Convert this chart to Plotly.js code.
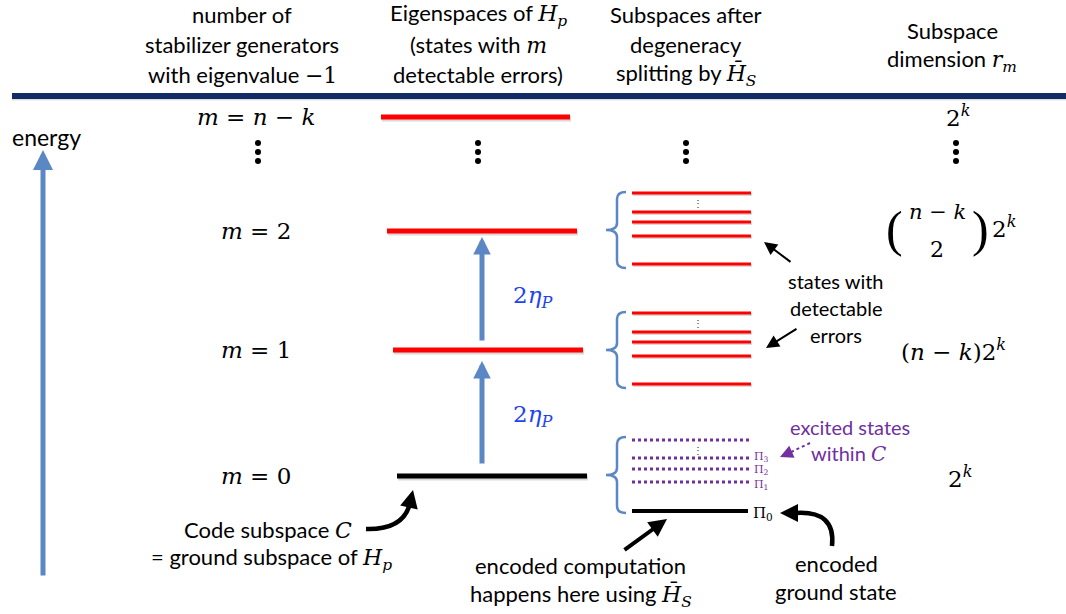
<!DOCTYPE html>
<html><head><meta charset="utf-8">
<script src="https://cdn.plot.ly/plotly-3.0.1.min.js"></script>
<style>html,body{margin:0;padding:0;background:#fff}#chart{width:1066px;height:614px}</style>
</head><body><div id="chart"></div>
<script>
// ---------- data ----------
const levelLabels = ['<i>m</i> = <i>n</i> − <i>k</i>', '<i>m</i> = 2', '<i>m</i> = 1', '<i>m</i> = 0'];
const levelEnergy = [117, 231, 350, 476];          // energy of each H_p eigenspace (axis units)
const levelKind   = ['error', 'error', 'error', 'code'];
const dimLabels   = ['2<sup><i>k</i></sup>', 'BINOM', '(<i>n</i> − <i>k</i>)2<sup><i>k</i></sup>', '2<sup><i>k</i></sup>'];
const gapLabels   = ['2<i>η<sub>P</sub></i>', '2<i>η<sub>P</sub></i>'];
const splitGroupTop  = [193, 313, 440];             // split sub-levels (axis units)
const splitOffsets   = [0, 19, 29, 43, 71];
const codeSubLevels  = [440, 458, 469, 482];        // excited states within C
const codeGround     = 511;                          // Π0
const projLabels     = ['', 'Π<sub>3</sub>', 'Π<sub>2</sub>', 'Π<sub>1</sub>'];
const headerCols = [
  ['number of', 'stabilizer generators', 'with eigenvalue <span style="font-family:DejaVu Serif">−1</span>'],
  ['Eigenspaces of <i style="font-family:DejaVu Serif">H<sub>p</sub></i>', '(states with <i style="font-family:DejaVu Serif">m</i>', 'detectable errors)'],
  ['Subspaces after', 'degeneracy', 'splitting by <i style="font-family:DejaVu Serif">H̄<sub>S</sub></i>'],
  ['Subspace', 'dimension <i style="font-family:DejaVu Serif">r<sub>m</sub></i>']
];

// ---------- styles / layout helpers ----------
const SANS = 'Lato, "Open Sans", sans-serif';
const SERIF = '"DejaVu Serif", serif';
const RED = '#FF0000', BLUE = '#5B87C4', PURPLE = '#7030A0', NAVY = '#122D66', ETA = '#2244EE';
const shapes = [], ann = [];
function T(x, y, text, size, color, family, extra) {
  ann.push(Object.assign({x, y, xref:'x', yref:'y', text, showarrow:false, xanchor:'center', yanchor:'middle',
    font:{size, color: color||'#000', family: family||SANS}}, extra||{}));
}
function A(x, y, ax, ay, w, color, size, head) {
  ann.push({x, y, ax, ay, xref:'x', yref:'y', axref:'x', ayref:'y', text:'', showarrow:true,
    arrowhead: head===undefined?2:head, arrowwidth:w, arrowcolor:color, arrowsize:size||1, standoff:0, startstandoff:0});
}
function L(x0, y0, x1, y1, color, w, dash) {
  shapes.push({type:'line', xref:'x', yref:'y', x0, y0, x1, y1, line:{color, width:w, dash:dash||'solid'}});
}
function P(path, color, w) {
  shapes.push({type:'path', xref:'x', yref:'y', path, line:{color, width:w}});
}

// header
const headerX = [242, 478, 686, 952];
const headerY0 = [14, 14, 14, 30];
headerCols.forEach((lines, i) => lines.forEach((t, j) => T(headerX[i], headerY0[i] + 30*j, t, 22)));
L(12, 96, 1066, 96, NAVY, 6);
L(12, 99.5, 1066, 99.5, 'rgba(0,0,0,0.12)', 2);

// energy axis
T(46, 137, 'energy', 23);
A(43, 150, 43, 577, 5, BLUE, 0.8);

// H_p levels
const levelX = [[381,570],[387,577],[393,583],[397,587]];
const labelX = 256;
levelEnergy.forEach((e, i) => {
  const c = levelKind[i] === 'code' ? '#000' : RED;
  L(levelX[i][0]+1, e+2, levelX[i][1]+1, e+2, 'rgba(0,0,0,0.15)', 5);
  L(levelX[i][0], e, levelX[i][1], e, c, 5);
  T(labelX, e, levelLabels[i], 23, '#000', SERIF);
});
// gap arrows
A(482, levelEnergy[1]+6, 482, levelEnergy[2]-8, 5, BLUE, 0.7);
A(482, levelEnergy[2]+11, 482, levelEnergy[3]-11, 5, BLUE, 0.7);
T(533, 297, gapLabels[0], 23, ETA, SERIF);
T(533, 416, gapLabels[1], 23, ETA, SERIF);

// split subspaces
function bracket(top, bot) {
  const xm = 617, xr = 626, xt = 606, mid = (top+bot)/2;
  P(`M ${xr},${top} Q ${xm},${top} ${xm},${top+7} L ${xm},${mid-7} Q ${xm},${mid} ${xt},${mid} Q ${xm},${mid} ${xm},${mid+7} L ${xm},${bot-7} Q ${xm},${bot} ${xr},${bot}`, BLUE, 2.5);
}
[0,1].forEach(g => {
  const top = splitGroupTop[g];
  splitOffsets.forEach(o => {
    L(633, top+o+1.5, 752, top+o+1.5, 'rgba(0,0,0,0.15)', 3);
    L(632, top+o, 751, top+o, RED, 3);
  });
  bracket(top-1, top+splitOffsets[4]+4);
  T(698, top+10, '⋮', 10, '#333', SERIF);
});
const projDy = [0, -1, 1, 3];
codeSubLevels.forEach((y, i) => {
  L(632, y, 749, y, PURPLE, 3, 'dot');
  if (projLabels[i]) T(761, y+projDy[i], projLabels[i], 11, PURPLE, SERIF);
});
L(632, codeGround, 748, codeGround, '#000', 4);
T(763, codeGround+2, 'Π<sub>0</sub>', 15, '#000', SERIF);
bracket(437, 513);
T(698, 450, '⋮', 10, '#333', SERIF);

// column ellipses
const dotsX = [258, 478, 686, 956];
const dotsY = [143, 152, 161];
const trace = {x:[], y:[], mode:'markers', type:'scatter', marker:{color:'#000', size:6}, hoverinfo:'skip'};
dotsX.forEach(x => dotsY.forEach(y => { trace.x.push(x); trace.y.push(y); }));

// dimensions
T(958, 116, dimLabels[0], 23, '#000', SERIF);
T(894, 229, '(', 50, '#000', '"Liberation Serif", serif');
T(980, 229, ')', 50, '#000', '"Liberation Serif", serif');
T(937, 212, '<i>n</i> − <i>k</i>', 21, '#000', SERIF);
T(937, 249, '2', 22, '#000', SERIF);
T(1004, 227, '2<sup><i>k</i></sup>', 23, '#000', SERIF);
T(953, 350, dimLabels[2], 23, '#000', SERIF);
T(960, 477, dimLabels[3], 23, '#000', SERIF);

// annotations: detectable errors
T(836, 281, 'states with', 20);
T(836, 308, 'detectable', 20);
T(836, 335, 'errors', 20);
A(764, 242, 792, 263, 2, '#000', 1.3);
A(766, 348, 798, 328, 2, '#000', 1.3);

// excited states within C
T(850, 427, 'excited states', 20, PURPLE);
T(848, 453, 'within <i style="font-family:DejaVu Serif">C</i>', 20, PURPLE);
L(810, 443, 789, 453, PURPLE, 2, 'dot');
A(780, 457, 789, 453, 2, PURPLE, 1.3);

// bottom notes
T(268, 529, 'Code subspace <i style="font-family:DejaVu Serif">C</i>', 22);
T(271, 558, '= ground subspace of <i style="font-family:DejaVu Serif">H<sub>p</sub></i>', 22);
P('M 366,529 Q 404,530 410,503', '#000', 4.5);
A(413, 490, 410, 503, 4, '#000', 0.9);

T(580, 565, 'encoded computation', 22);
T(581, 595, 'happens here using <i style="font-family:DejaVu Serif">H̄<sub>S</sub></i>', 22);
A(667, 519, 623, 551, 4, '#000', 0.9);

T(836, 563, 'encoded', 22);
T(836, 591, 'ground state', 22);
P('M 832,546 Q 836,510 795,513', '#000', 4.5);
A(780, 513, 795, 513, 4, '#000', 0.9);

const layout = {
  width:1066, height:614, margin:{l:0, r:0, t:0, b:0},
  paper_bgcolor:'#fff', plot_bgcolor:'#fff', showlegend:false,
  xaxis:{range:[0,1066], visible:false, fixedrange:true},
  yaxis:{range:[614,0], visible:false, fixedrange:true},
  shapes, annotations: ann
};
Plotly.newPlot('chart', [trace], layout, {displayModeBar:false, staticPlot:true});
</script></body></html>
